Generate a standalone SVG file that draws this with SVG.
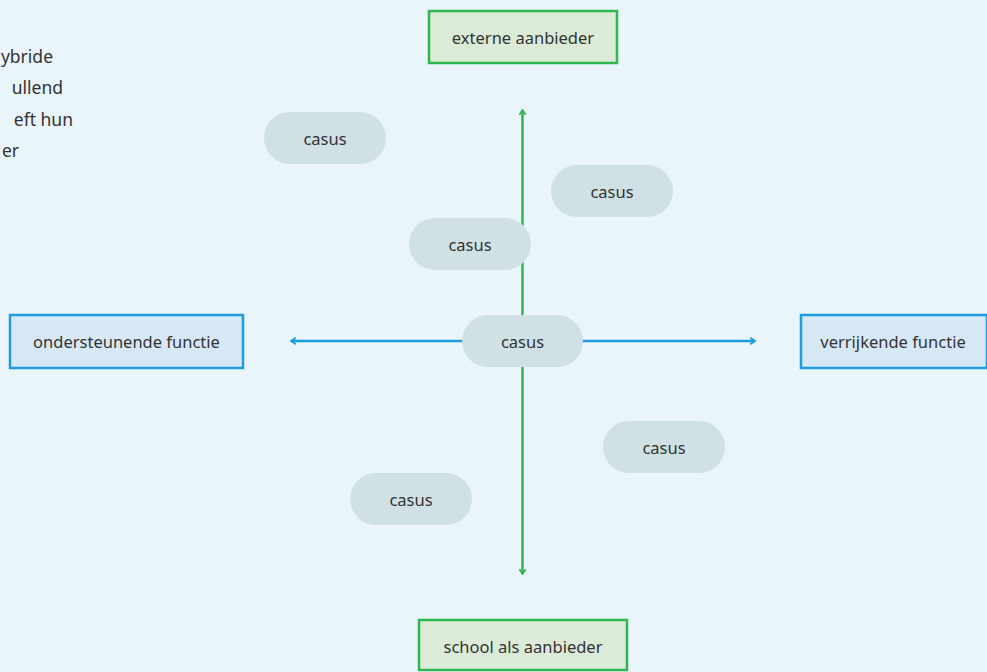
<svg xmlns="http://www.w3.org/2000/svg" width="987" height="672" viewBox="0 0 987 672">
<style>
text{font-family:"Noto Sans","Open Sans","DejaVu Sans",sans-serif;fill:#333;font-size:16.5px}
.c{text-anchor:middle;dominant-baseline:central}
.g{fill:#dbebd8;stroke:#2fb64e;stroke-width:2.5}
.b{fill:#d6e8f6;stroke:#1b9de0;stroke-width:2.5}
.p{fill:#cfe1e5}
.intro{font-size:17.5px;text-anchor:end}
</style>
<defs>
<marker id="ag" viewBox="0 0 10 10" refX="8" refY="5" markerWidth="8" markerHeight="8" orient="auto-start-reverse" markerUnits="userSpaceOnUse">
<path d="M2,1 L8,5 L2,9" fill="none" stroke="#2fb64e" stroke-width="2.2"/>
</marker>
<marker id="ab" viewBox="0 0 10 10" refX="8" refY="5" markerWidth="8" markerHeight="8" orient="auto-start-reverse" markerUnits="userSpaceOnUse">
<path d="M2,1 L8,5 L2,9" fill="none" stroke="#1b9de0" stroke-width="2.2"/>
</marker>
</defs>
<rect width="987" height="672" fill="#eaf4fb"/>
<g id="intro">
<text class="intro" x="53" y="63">ybride</text>
<text class="intro" x="63" y="94">ullend</text>
<text class="intro" x="73" y="126">eft hun</text>
<text class="intro" x="19" y="157">er</text>
</g>
<g id="connectors">
<line x1="522.5" y1="110" x2="522.5" y2="574" stroke="#2fb64e" stroke-width="2.5" marker-start="url(#ag)" marker-end="url(#ag)"/>
<line x1="291" y1="341" x2="755" y2="341" stroke="#1b9de0" stroke-width="2.5" marker-start="url(#ab)" marker-end="url(#ab)"/>
</g>
<g id="externe-aanbieder"><rect class="g" x="429" y="11" width="188" height="52"/><text class="c" x="523" y="37">externe aanbieder</text></g>
<g id="school-als-aanbieder"><rect class="g" x="419" y="620" width="208" height="50"/><text class="c" x="523" y="646">school als aanbieder</text></g>
<g id="ondersteunende-functie"><rect class="b" x="10" y="315" width="233" height="53"/><text class="c" x="126.5" y="341.5">ondersteunende functie</text></g>
<g id="verrijkende-functie"><rect class="b" x="801" y="315" width="186" height="53"/><text class="c" x="893" y="341.5">verrijkende functie</text></g>
<g id="casus-center"><rect class="p" x="462" y="315" width="121" height="52" rx="26"/><text class="c" x="522.5" y="341">casus</text></g>
<g id="casus-1"><rect class="p" x="264" y="112" width="122" height="52" rx="26"/><text class="c" x="325" y="138">casus</text></g>
<g id="casus-2"><rect class="p" x="551" y="165" width="122" height="52" rx="26"/><text class="c" x="612" y="191">casus</text></g>
<g id="casus-3"><rect class="p" x="409" y="218" width="122" height="52" rx="26"/><text class="c" x="470" y="244">casus</text></g>
<g id="casus-4"><rect class="p" x="603" y="421" width="122" height="52" rx="26"/><text class="c" x="664" y="447">casus</text></g>
<g id="casus-5"><rect class="p" x="350" y="473" width="122" height="52" rx="26"/><text class="c" x="411" y="499">casus</text></g>
</svg>
